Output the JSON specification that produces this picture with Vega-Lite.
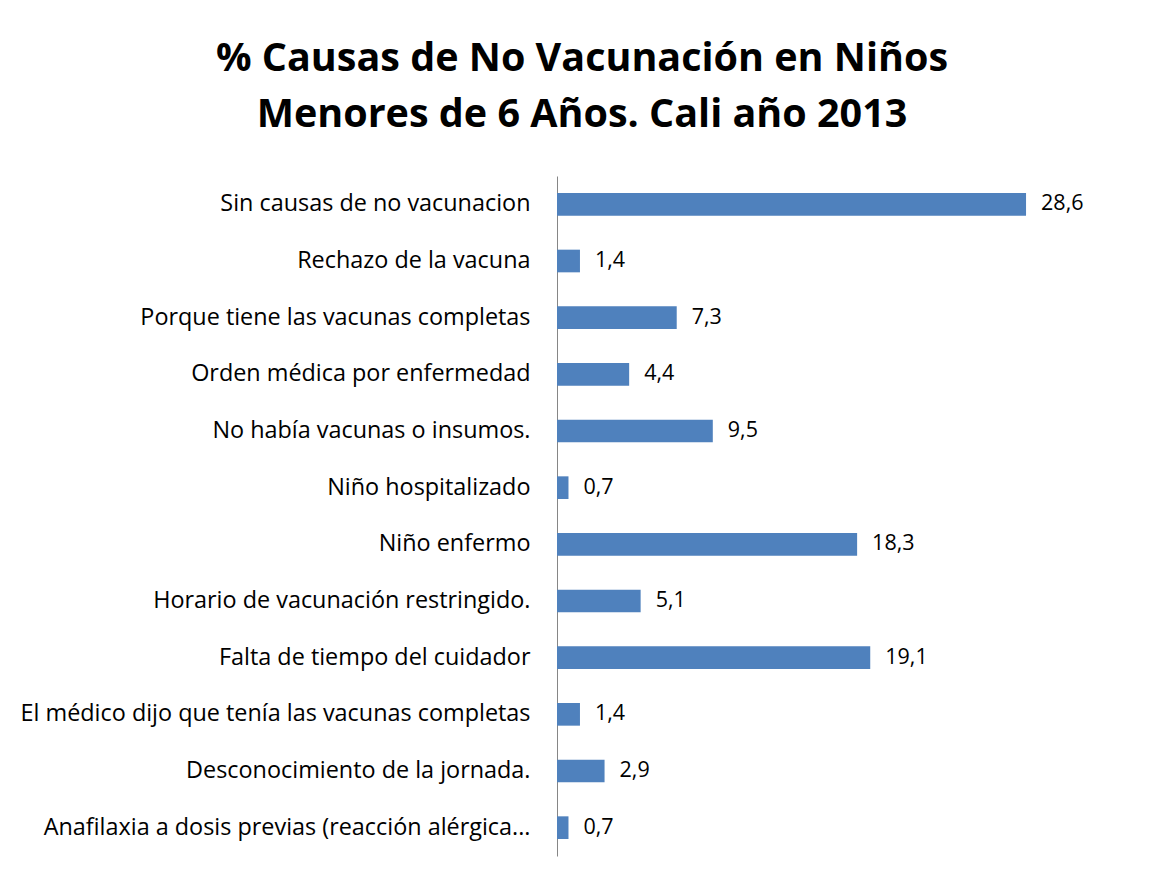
{
  "$schema": "https://vega.github.io/schema/vega-lite/v6.json",
  "autosize": "none",
  "padding": {"left": 557, "top": 176, "right": 102, "bottom": 26},
  "width": 492,
  "height": 680,
  "background": "white",
  "title": {
    "text": ["% Causas de No Vacunación en Niños", "Menores de 6 Años. Cali  año 2013"],
    "font": "Open Sans",
    "fontSize": 39.5,
    "fontWeight": "bold",
    "color": "#000000",
    "anchor": "middle",
    "frame": "group",
    "dx": -221,
    "offset": 41,
    "lineHeight": 56
  },
  "data": {
    "values": [
      {"causa": "Sin causas de no vacunacion", "pct": 28.6},
      {"causa": "Rechazo de la vacuna ", "pct": 1.4},
      {"causa": "Porque tiene las vacunas completas", "pct": 7.3},
      {"causa": "Orden médica por enfermedad", "pct": 4.4},
      {"causa": "No había vacunas o insumos.", "pct": 9.5},
      {"causa": "Niño hospitalizado", "pct": 0.7},
      {"causa": "Niño enfermo", "pct": 18.3},
      {"causa": "Horario de vacunación restringido.", "pct": 5.1},
      {"causa": "Falta de tiempo del cuidador", "pct": 19.1},
      {"causa": "El médico dijo que tenía las vacunas completas", "pct": 1.4},
      {"causa": "Desconocimiento de la jornada.", "pct": 2.9},
      {"causa": "Anafilaxia a dosis previas (reacción alérgica...", "pct": 0.7}
    ]
  },
  "encoding": {
    "y": {
      "field": "causa",
      "type": "nominal",
      "sort": null,
      "title": null,
      "scale": {"paddingInner": 0.6, "paddingOuter": 0.3},
      "axis": {
        "ticks": false,
        "domainColor": "#868686",
        "domainWidth": 1,
        "labelFont": "Open Sans",
        "labelFontSize": 23.4,
        "labelColor": "#000000",
        "labelPadding": 27,
        "labelLimit": 700
      }
    },
    "x": {
      "field": "pct",
      "type": "quantitative",
      "scale": {"domain": [0, 30], "nice": false},
      "axis": null
    }
  },
  "layer": [
    {"mark": {"type": "bar", "color": "#4F81BD"}},
    {
      "mark": {"type": "text", "align": "left", "baseline": "middle", "dx": 15, "font": "Open Sans", "fontSize": 21.5, "color": "#000000"},
      "encoding": {"text": {"field": "pct", "type": "quantitative", "format": ".1f"}}
    }
  ],
  "config": {
    "view": {"stroke": null},
    "locale": {"number": {"decimal": ",", "thousands": ".", "grouping": [3], "currency": ["", " €"]}}
  }
}
